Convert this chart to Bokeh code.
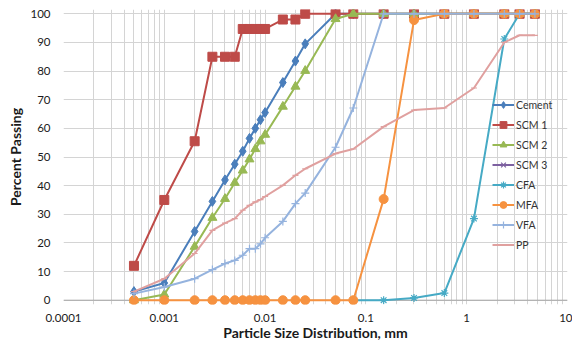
import numpy as np
from bokeh.plotting import figure
from bokeh.models import (FixedTicker, Range1d, Legend, LegendItem, Span,
                          ColumnDataSource, CustomJSTickFormatter)
from bokeh.embed import file_html
from bokeh.resources import INLINE

# ---------------- data ----------------
sizes_mm = [0.0005, 0.001, 0.002, 0.003, 0.004, 0.005, 0.006, 0.007, 0.008, 0.009,
            0.01, 0.015, 0.02, 0.025, 0.05, 0.075, 0.15, 0.3, 0.6, 1.18, 2.36, 3.35, 4.75]

cement = [3, 6, 24, 34.5, 42, 47.5, 52, 56.5, 60, 63, 65.5, 76, 83.5, 89.5, 100,
          100, 100, 100, 100, 100, 100, 100, 100]
scm1 = [12, 35, 55.5, 85, 85, 85, 94.7, 94.7, 94.7, 94.7, 94.7, 98, 98, 100, 100,
        100, 100, 100, 100, 100, 100, 100, 100]
scm2 = [0, 2, 18.7, 28.8, 35.4, 41, 45.3, 49.2, 52.8, 55.5, 57.8, 67.6, 74.6, 80.1, 98.2,
        100, 100, 100, 100, 100, 100, 100, 100]
scm3 = [None, None, None, None, None, None, None, None, None, None, None, None, None, None, None,
        None, None, None, None, None, None, None, None]
cfa = [None, None, None, None, None, None, None, None, None, None, None, None, None, None, None,
       0, 0, 0.8, 2.5, 28.5, 91.2, 100, 100]
mfa = [0, 0, 0, 0, 0, 0, 0, 0, 0, 0, 0, 0, 0, 0, 0,
       0, 35.3, 97.8, 100, 100, 100, 100, 100]
vfa = [2.3, 4.6, 7.5, 10.7, 12.8, 13.9, 15.7, 18, 18, 19.7, 21.8, 27.5, 33.7, 37.4, 53.4,
       67.1, 100, 100, 100, 100, 100, 100, 100]
pp = [3, 7.5, 16.3, 24.4, 26.9, 28.5, 31.4, 33.1, 34.3, 35.1, 36.2, 40.1, 43.6, 45.9, 51.2,
      52.8, 60.6, 66.4, 67.1, 74.1, 90, 92.5, 92.5]

series_names = ["Cement", "SCM 1", "SCM 2", "SCM 3", "CFA", "MFA", "VFA", "PP"]
series_values = [cement, scm1, scm2, scm3, cfa, mfa, vfa, pp]

x_tick_values = [0.0001, 0.001, 0.01, 0.1, 1, 10]
x_tick_labels = ["0.0001", "0.001", "0.01", "0.1", "1", "10"]
y_tick_values = [0, 10, 20, 30, 40, 50, 60, 70, 80, 90, 100]

# ---------------- styles ----------------
colors = ["#4A7EBB", "#BE4B48", "#98B954", "#7D60A0", "#46AAC5", "#F69240", "#95B3DE", "#E0A09F"]
markers = ["diamond", "square", "triangle", "x", "asterisk", "circle", "cross", "dash"]
msizes = [10, 9, 9, 8, 8, 9, 8, 6]

FONT = "Lato"
GRID = "#D4D4D4"

p = figure(width=572, height=343, x_axis_type="log",
           x_range=Range1d(0.0001, 10), y_range=Range1d(-1.5, 101.5),
           output_backend="svg", toolbar_location=None,
           min_border_left=63, min_border_right=5, min_border_top=9, min_border_bottom=39)
p.outline_line_color = None
p.background_fill_color = "white"

minor = []
for d in x_tick_values[:-1]:
    for k in range(2, 10):
        minor.append(d * k)
p.xaxis.ticker = FixedTicker(ticks=x_tick_values, minor_ticks=minor)
p.xaxis.formatter = CustomJSTickFormatter(args=dict(vals=x_tick_values, labs=x_tick_labels), code="""
const i = vals.findIndex(v => Math.abs(Math.log10(v) - Math.log10(tick)) < 1e-6);
return i >= 0 ? labs[i] : '';
""")
p.yaxis.ticker = FixedTicker(ticks=y_tick_values)

for ax in (p.xaxis, p.yaxis):
    ax.axis_line_color = None
    ax.major_tick_line_color = None
    ax.minor_tick_line_color = None
    ax.major_tick_out = 0
    ax.major_tick_in = 0
    ax.minor_tick_out = 0
    ax.minor_tick_in = 0
    ax.major_label_text_font = FONT
    ax.major_label_text_font_size = "11.5px"
    ax.major_label_text_color = "#1A1A1A"
    ax.axis_label_text_font = FONT
    ax.axis_label_text_font_size = "14px"
    ax.axis_label_text_font_style = "bold"
    ax.axis_label_text_color = "#1A1A1A"

p.xaxis.axis_label = "Particle Size Distribution, mm"
p.yaxis.axis_label = "Percent Passing"
p.xaxis.major_label_standoff = 9
p.xaxis.axis_label_standoff = -1
p.yaxis.major_label_standoff = 13
p.yaxis.axis_label_standoff = 3

p.xgrid.grid_line_color = GRID
p.xgrid.minor_grid_line_color = GRID
p.ygrid.grid_line_color = GRID

p.add_layout(Span(location=0, dimension="width", line_color="#A6A6A6", line_width=1, level="underlay"))

items = []
for name, vals, c, m, s in zip(series_names, series_values, colors, markers, msizes):
    y = np.array(vals, dtype=float)
    src = ColumnDataSource(dict(x=sizes_mm, y=y))
    lr = p.line("x", "y", source=src, line_color=c, line_width=2)
    if m in ("x", "asterisk", "cross", "dash"):
        sr = p.scatter("x", "y", source=src, marker=m, size=s, line_color=c, line_width=1.2)
    else:
        sr = p.scatter("x", "y", source=src, marker=m, size=s, fill_color=c, line_color=c, line_width=1)
    items.append(LegendItem(label=name, renderers=[lr, sr]))

legend = Legend(items=items, location=(429, 51), orientation="vertical")
legend.background_fill_alpha = 0
legend.border_line_color = None
legend.padding = 0
legend.margin = 0
legend.spacing = 3
legend.glyph_width = 22
legend.glyph_height = 17
legend.label_height = 17
legend.label_standoff = 2
legend.label_text_font = FONT
legend.label_text_font_size = "10.5px"
legend.label_text_color = "#333333"
p.add_layout(legend)

open("out.html", "w").write(file_html(p, INLINE))
